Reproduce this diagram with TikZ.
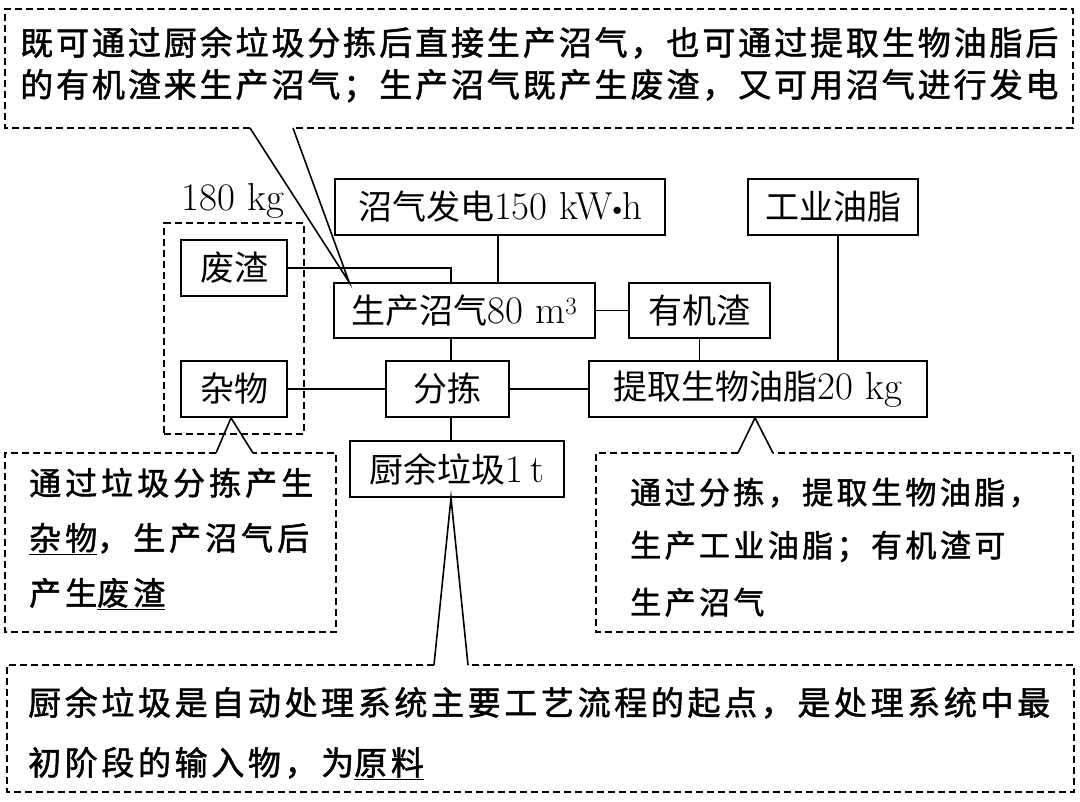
\documentclass[tikz,border=0pt]{standalone}
\usepackage{fontspec}
\newfontfamily\cjk{Noto Sans CJK SC}
\usetikzlibrary{fit,calc}
\newcommand\zh[1]{{\cjk #1}}
\newcommand\la[1]{{\fontsize{39}{44}\selectfont #1}}
\newcommand\kwdot{\raisebox{0.12em}{\scalebox{0.75}{$\bullet$}}}
\begin{document}
\begin{tikzpicture}[x=1pt,y=-1pt,
  box/.style={draw,line width=1.8pt,minimum height=56,inner sep=0pt,
    font=\fontsize{34}{40}\selectfont},
  conn/.style={line width=1.8pt},
  dashline/.style={line width=1.8pt,dash pattern=on 7pt off 4pt},
  ptr/.style={line width=1.6pt,line join=miter},
  topfont/.style={font=\fontsize{33}{36}\selectfont\cjk\addfontfeatures{LetterSpace=8.8,FakeBold=1.5}},
  sidefont/.style={font=\fontsize{32}{36}\selectfont\cjk\addfontfeatures{LetterSpace=12.5,FakeBold=1.5}},
  rightfont/.style={font=\fontsize{31}{36}\selectfont\cjk\addfontfeatures{LetterSpace=11,FakeBold=1.5}},
  botfont/.style={font=\fontsize{33}{36}\selectfont\cjk\addfontfeatures{LetterSpace=11,FakeBold=1.5}},
  txt/.style={anchor=base west,inner sep=0pt}
]
\path[use as bounding box] (0,0) rectangle (1080,802);

% boxes
\node[box,minimum width=330] (gen) at (500,207) {\zh{沼气发电}\la{150 kW\kwdot h}};
\node[box,minimum width=170] (oil) at (833,207) {\zh{工业油脂}};
\node[inner sep=0pt,anchor=base] (kg) at (233,211) {\la{180 kg}};
\node[box,minimum width=106] (fz) at (234,268) {\zh{废渣}};
\node[box,minimum width=106] (zw) at (234,389) {\zh{杂物}};
\node[box,minimum width=261,minimum height=55] (gas) at (464.5,310.5) {\zh{生产沼气}\la{80 m$^3$}};
\node[box,minimum width=141,minimum height=55] (yjz) at (699.5,310.5) {\zh{有机渣}};
\node[box,minimum width=123] (fj) at (447.5,389) {\zh{分拣}};
\node[box,minimum width=338] (tq) at (758,389) {\zh{提取生物油脂}\la{20 kg}};
\node[box,minimum width=214] (cy) at (457,469) {\zh{厨余垃圾}\la{1\,t}};
\node[dashline,draw,fit=(fz)(zw),inner sep=16pt] (grp) {};

% connectors
\coordinate (sp) at (451,0);
\draw[conn] (fz.east) -| (gas.north -| sp);
\draw[conn] ([xshift=-2]gen.south) -- ([xshift=-2]gen.south |- gas.north);
\draw[conn] (gas.east) -- (yjz.west);
\draw[conn] (yjz.south) -- (yjz.south |- tq.north);
\draw[conn] ([xshift=5]oil.south) -- ([xshift=5]oil.south |- tq.north);
\draw[conn] (gas.south -| sp) -- (fj.north -| sp);
\draw[conn] (zw.east) -- (fj.west);
\draw[conn] (fj.east) -- (tq.west);
\draw[conn] (fj.south -| sp) -- (cy.north -| sp);

% top callout
\coordinate (ta) at ($(gas.north west)+(16,0)$);
\coordinate (tl) at (250,128);
\coordinate (tr) at (293,128);
\draw[dashline] (tl) -- (5,128) -- (5,9) -- (1073,9) -- (1073,128) -- (tr);
\draw[ptr] (tl) -- (ta) -- (tr);
\node[txt,topfont] (t1) at (20,55) {既可通过厨余垃圾分拣后直接生产沼气，也可通过提取生物油脂后};
\node[txt,topfont] (t2) at (20,97) {的有机渣来生产沼气；生产沼气既产生废渣，又可用沼气进行发电};

% left callout
\coordinate (ll) at (216,453);
\coordinate (lr) at (253,453);
\draw[dashline] (ll) -- (5,453) -- (5,632) -- (336,632) -- (336,453) -- (lr);
\draw[ptr] (ll) -- ([xshift=-3]zw.south) -- (lr);
\node[txt,sidefont] (l1) at (29,495) {通过垃圾分拣产生};
\node[txt,sidefont] (l2) at (29,550) {\underline{杂物}，生产沼气后};
\node[txt,sidefont] (l3) at (29,605) {产生\underline{废渣}};

% right callout
\coordinate (rl) at (738,453);
\coordinate (rr) at (773,453);
\draw[dashline] (rl) -- (596,453) -- (596,632) -- (1073,632) -- (1073,453) -- (rr);
\draw[ptr] (rl) -- ([xshift=-3]tq.south) -- (rr);
\node[txt,rightfont] (r1) at (630,504) {通过分拣，提取生物油脂，};
\node[txt,rightfont] (r2) at (630,557) {生产工业油脂；有机渣可};
\node[txt,rightfont] (r3) at (630,614) {生产沼气};

% bottom callout
\coordinate (bl) at (434,665);
\coordinate (br) at (468,665);
\draw[dashline] (bl) -- (7,665) -- (7,792) -- (1074,792) -- (1074,665) -- (br);
\draw[ptr] (bl) -- (cy.south -| sp) -- (br);
\node[txt,botfont] (b1) at (28,715) {厨余垃圾是自动处理系统主要工艺流程的起点，是处理系统中最};
\node[txt,botfont] (b2) at (28,775) {初阶段的输入物，为\underline{原料}};
\end{tikzpicture}
\end{document}
